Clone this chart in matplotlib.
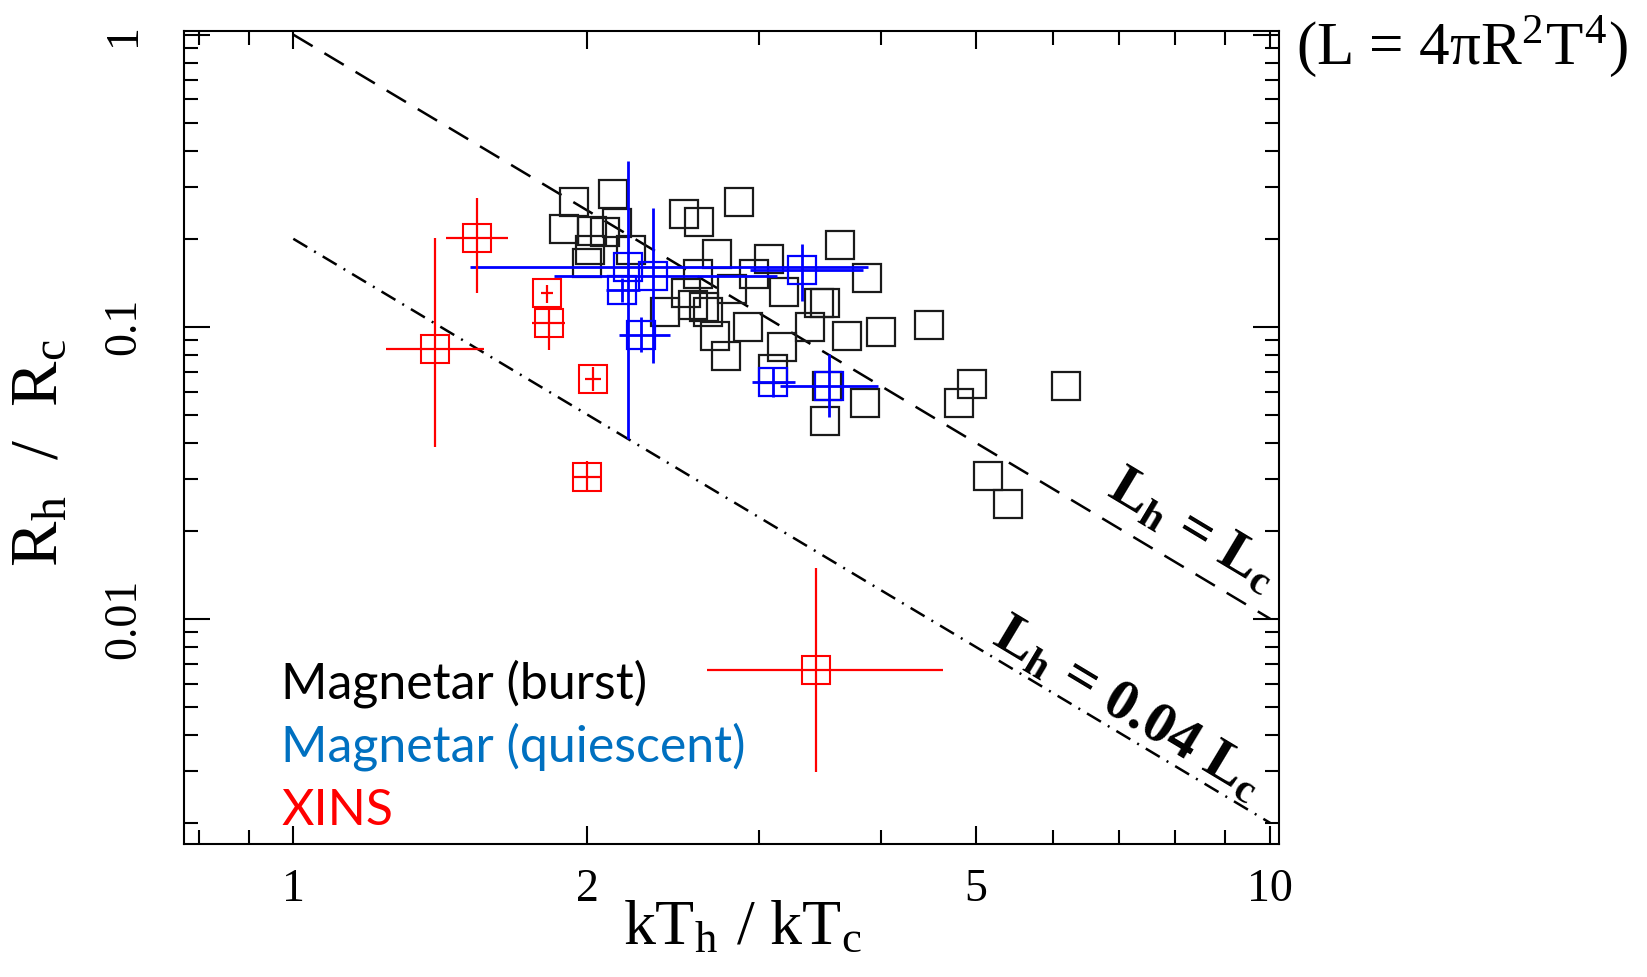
import matplotlib
matplotlib.use("Agg")
import matplotlib.pyplot as plt
from matplotlib.ticker import FixedLocator, FixedFormatter, NullFormatter
import numpy as np

# Magnetar (burst): black open squares, no error bars
burst_x = [1.937, 2.126, 1.892, 2.023, 2.085, 2.147, 1.998, 2.012, 2.217,
           2.513, 2.599, 2.856, 3.627, 2.715, 3.070, 2.961, 2.598, 3.866,
           2.522, 3.181, 3.450, 3.499, 2.401, 2.568, 2.630, 2.658, 2.918,
           3.384, 3.692, 3.996, 4.471, 2.703, 3.162, 2.770, 3.095, 3.520,
           3.848, 3.504, 4.951, 4.799, 6.180, 5.142, 5.394, 2.812]
burst_y = [0.268, 0.2843, 0.2169, 0.2132, 0.2102, 0.2274, 0.1655, 0.1831, 0.1824,
           0.2426, 0.2289, 0.2674, 0.1912, 0.1769, 0.1699, 0.152, 0.1515, 0.1471,
           0.1304, 0.1318, 0.1207, 0.1207, 0.112, 0.1187, 0.1168, 0.1123, 0.0995,
           0.0998, 0.0929, 0.0957, 0.1013, 0.0931, 0.0854, 0.0791, 0.0716, 0.0627,
           0.0549, 0.0475, 0.0635, 0.0549, 0.0629, 0.0308, 0.0247, 0.1346]

# Magnetar (quiescent): blue, with error bars (lower / upper bounds)
quiet_x = [2.203, 2.332, 2.172, 2.271, 3.097, 3.535, 3.316]
quiet_y = [0.1595, 0.1486, 0.1336, 0.0937, 0.0645, 0.0626, 0.1558]
quiet_xlo = [1.515, 1.847, 2.090, 2.157, 2.951, 3.149, 2.934]
quiet_xhi = [3.872, 3.124, 2.264, 2.430, 3.263, 3.967, 3.830]
quiet_ylo = [0.0412, 0.0754, 0.1215, 0.0822, 0.0576, 0.0491, 0.1225]
quiet_yhi = [0.3703, 0.2550, 0.1468, 0.1079, 0.0722, 0.0806, 0.1919]

# XINS: red, with error bars
xins_x = [1.541, 1.397, 1.817, 1.826, 2.026, 1.997, 3.428]
xins_y = [0.2007, 0.0837, 0.1307, 0.1032, 0.0662, 0.0306, 0.0067]
xins_xlo = [1.432, 1.243, 1.792, 1.754, 1.989, 1.932, 2.650]
xins_xhi = [1.660, 1.567, 1.843, 1.897, 2.064, 2.065, 4.624]
xins_ylo = [0.1301, 0.0388, 0.1203, 0.0832, 0.0602, 0.0271, 0.00299]
xins_yhi = [0.2766, 0.2017, 0.1390, 0.1168, 0.0728, 0.0347, 0.01488]

# reference lines L_h = ratio * L_c  ->  R_h/R_c = sqrt(ratio) * (T_h/T_c)^-2
line_x = np.array([1.0, 10.0])
line_ratio = [1.0, 0.04]
line_styles = [(0, (9.0, 5.5)), (0, (6.5, 3.2, 0.8, 3.2))]

serif = "Liberation Serif"
plt.rcParams["font.family"] = serif
plt.rcParams["mathtext.fontset"] = "stix"

fig = plt.figure(figsize=(16.47, 9.77), dpi=100)
ax = fig.add_axes([0.1116, 0.1366, 0.6652, 0.8312])
ax.set_xscale("log")
ax.set_yscale("log")

for ratio, ls in zip(line_ratio, line_styles):
    ax.plot(line_x, np.sqrt(ratio) * line_x ** -2.0, color="black",
            lw=1.8, linestyle=ls, zorder=2)

ax.plot(burst_x, burst_y, "s", ms=20, mfc="none", mec="#1a1a1a", mew=1.6, zorder=3)


def asym(c, lo, hi):
    c = np.asarray(c)
    return [c - np.asarray(lo), np.asarray(hi) - c]


ax.errorbar(quiet_x, quiet_y, xerr=asym(quiet_x, quiet_xlo, quiet_xhi),
            yerr=asym(quiet_y, quiet_ylo, quiet_yhi), fmt="s", ms=20,
            mfc="none", mec="blue", mew=1.6, ecolor="blue", elinewidth=2.0,
            capsize=0, zorder=4)
ax.errorbar(xins_x, xins_y, xerr=asym(xins_x, xins_xlo, xins_xhi),
            yerr=asym(xins_y, xins_ylo, xins_yhi), fmt="s", ms=20,
            mfc="none", mec="red", mew=1.5, ecolor="red", elinewidth=1.6,
            capsize=0, zorder=5)

ax.set_xlim(0.7725, 10.22)
ax.set_ylim(0.0017, 1.0255)

# ticks
ax.xaxis.set_major_locator(FixedLocator([1, 2, 5, 10]))
ax.xaxis.set_major_formatter(FixedFormatter(["1", "2", "5", "10"]))
ax.xaxis.set_minor_locator(FixedLocator([0.8, 0.9, 3, 4, 6, 7, 8, 9]))
ax.xaxis.set_minor_formatter(NullFormatter())
ax.yaxis.set_major_locator(FixedLocator([0.01, 0.1, 1]))
ax.yaxis.set_major_formatter(FixedFormatter(["0.01", "0.1", "1"]))
ax.yaxis.set_minor_locator(FixedLocator(
    [m * d for d in (0.001, 0.01, 0.1) for m in range(2, 10)]))
ax.yaxis.set_minor_formatter(NullFormatter())

ax.tick_params(which="both", direction="in", top=True, right=True, width=1.5,
               labelsize=33)
ax.tick_params(axis="x", which="major", length=13, pad=18)
ax.tick_params(axis="x", which="minor", length=10)
ax.tick_params(axis="y", which="major", length=19, pad=28, labelrotation=90)
ax.tick_params(axis="y", which="minor", length=10)
for lab in ax.get_yticklabels():
    lab.set_va("center")
for sp in ax.spines.values():
    sp.set_linewidth(1.5)

# axis labels
fig.text(0.0243, 0.536, r"R$_\mathregular{h}$  /  R$_\mathregular{c}$",
         rotation=90, ha="center", va="center", fontsize=49)
fig.text(0.4511, 0.050, r"kT$_\mathregular{h}$ / kT$_\mathregular{c}$",
         ha="center", va="center", fontsize=46)

# legend as coloured text
sans = ["Lato", "DejaVu Sans"]
legend_items = ["Magnetar (burst)", "Magnetar (quiescent)", "XINS"]
legend_colors = ["black", "#0070C0", "#FF0000"]
for i, (txt, col) in enumerate(zip(legend_items, legend_colors)):
    fig.text(0.1709, 0.2851 - i * 0.0648, txt, color=col, family=sans,
             fontsize=36, ha="left", va="baseline")

# line annotations
fig.text(0.7238, 0.457, r"L$_\mathregular{h}$ = L$_\mathregular{c}$",
         rotation=-31, ha="center", va="center", fontsize=42, weight="bold")
fig.text(0.6845, 0.2743, r"L$_\mathregular{h}$ = 0.04 L$_\mathregular{c}$",
         rotation=-31, ha="center", va="center", fontsize=42, weight="bold")
fig.text(0.8877, 0.9529, r"(L = 4πR$^\mathregular{2}$T$^\mathregular{4}$)",
         ha="center", va="center", fontsize=44)

fig.savefig("out.png", dpi=100)
